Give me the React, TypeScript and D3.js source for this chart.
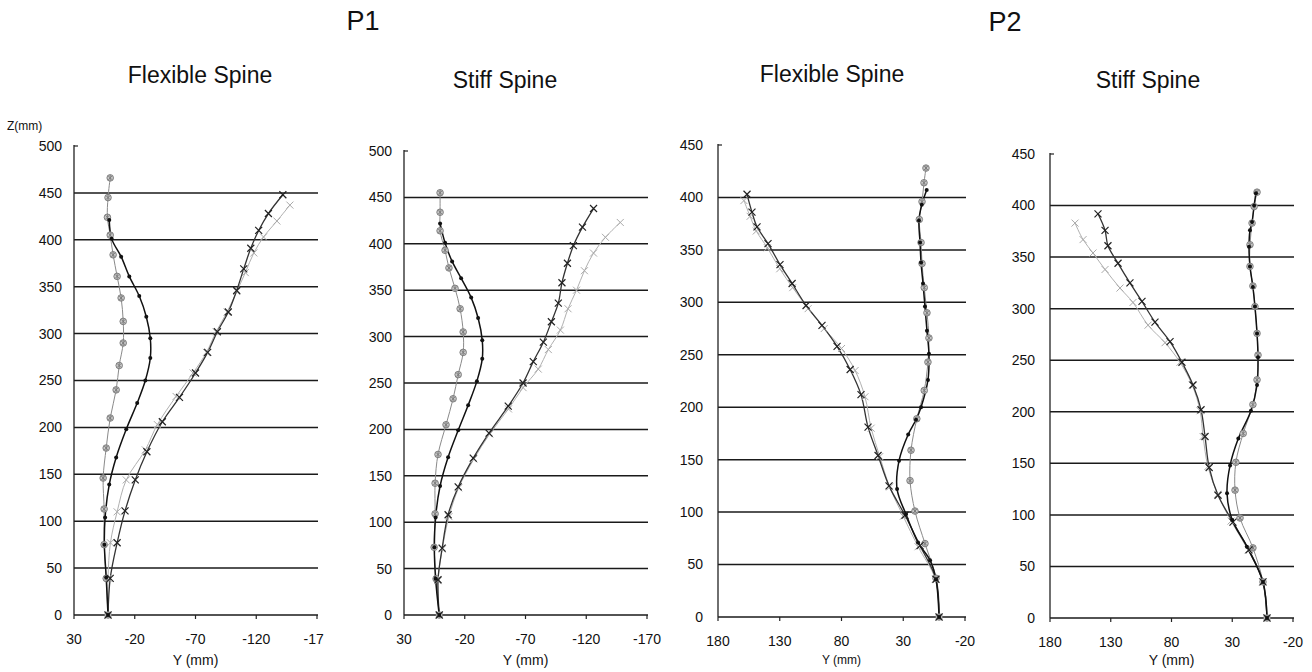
import React from "react";
import * as d3 from "d3";

// ---- data: [Y (mm), Z (mm)] ----
const yTicksP1 = [0, 50, 100, 150, 200, 250, 300, 350, 400, 450, 500];
const yTicksP2 = [0, 50, 100, 150, 200, 250, 300, 350, 400, 450];
const xTicksP1 = [30, -20, -70, -120, -170];
const xTicksP2 = [180, 130, 80, 30, -20];
const xLabelsP1Flex = ["30", "-20", "-70", "-120", "-17"];
const xLabelsP1Stiff = ["30", "-20", "-70", "-120", "-170"];
const xLabelsP2 = ["180", "130", "80", "30", "-20"];

const p1FlexDots = [[1, 421], [-1, 401], [-8.8, 382], [-15.5, 361], [-23.7, 340], [-29.5, 318], [-32.8, 295], [-32.8, 274], [-28.7, 250], [-22, 226], [-13, 198], [-4.7, 168], [1, 139], [4.4, 104], [5, 75], [3.5, 40], [2, 0]];
const p1FlexCircles = [[0.2, 466], [2, 445], [2.5, 424], [0.2, 405], [-2.2, 384], [-5.5, 361], [-8.8, 338], [-10.5, 313], [-10.5, 290], [-7.2, 266], [-4.7, 240], [0.2, 210], [3.5, 178], [6, 146], [5.2, 113], [5.2, 75], [3.5, 39], [2, 0]];
const p1FlexX = [[-141.9, 448], [-130, 428], [-122, 410], [-115.5, 391], [-109.7, 369], [-103.9, 346], [-97, 323], [-88, 302], [-80, 280], [-70, 258], [-56.8, 232], [-42.7, 206], [-30, 174], [-20.4, 144], [-12, 111], [-5.5, 77], [0.2, 39], [2, 0]];
const p1FlexXLight = [[-147.7, 437], [-137, 420], [-126, 403], [-118, 386], [-111, 365], [-104, 345], [-96, 323], [-87, 302], [-79, 280], [-68, 258], [-54, 233], [-38.6, 203], [-28.7, 176], [-13, 144], [-5.5, 110], [0, 77], [2, 39], [2, 0]];

const p1StiffDots = [[0.3, 422], [-3.8, 401], [-9.6, 381], [-17, 363], [-25.3, 342], [-31, 320], [-34.4, 296], [-34.4, 276], [-30, 252], [-22.8, 226], [-14.6, 199], [-6.3, 170], [0.3, 139], [4, 105], [5, 73], [4, 39], [1, 0]];
const p1StiffCircles = [[0.3, 455], [0.3, 434], [0.3, 414], [-3.8, 393], [-7, 374], [-12, 352], [-16.2, 330], [-18.7, 305], [-18.7, 283], [-14.6, 259], [-10.4, 233], [-4.6, 205], [2, 173], [4.4, 142], [4.4, 109], [5.2, 73], [3.6, 39], [1, 0]];
const p1StiffX = [[-126, 438], [-116.9, 418], [-109.4, 398], [-104.5, 379], [-100, 358], [-97, 336], [-91.3, 316], [-84.7, 294], [-76.4, 273], [-68, 250], [-55.8, 225], [-40, 196], [-27, 169], [-14.6, 138], [-6.3, 108], [-1.4, 72], [2, 38], [1, 0]];
const p1StiffXLight = [[-148, 423], [-135.8, 407], [-126, 390], [-118.5, 371], [-112, 350], [-105, 330], [-98.7, 307], [-88.8, 286], [-80.5, 265], [-68, 245], [-56, 222], [-40.5, 195], [-27.5, 168], [-15, 137], [-7, 106], [-1.5, 71], [2, 37], [1, 0]];

const p2FlexDots = [[11, 407], [15, 393], [17.3, 378], [16.4, 357], [15.6, 338], [14, 318], [12.4, 296], [10.8, 273], [9.2, 251], [10, 226], [15.6, 200], [19.7, 188], [26, 174], [33.4, 149], [35, 122], [27.8, 98], [18, 71], [8.3, 54], [3.5, 36], [1, 0]];
const p2FlexCircles = [[11.6, 428], [13.2, 414], [14.8, 396], [17, 379], [15.6, 357], [14.8, 337], [13, 314], [10.8, 290], [9.2, 266], [10, 243], [13, 216], [19, 189], [23.7, 159], [24.5, 130], [20.5, 101], [12.4, 70], [3.5, 37], [1, 0]];
const p2FlexX = [[156.5, 403], [152.5, 386], [148.4, 372], [139.5, 356], [129.8, 336], [120, 318], [108.7, 297], [95.8, 278], [83.6, 258], [73, 236], [64.2, 212], [58.5, 181], [50.4, 154], [41.5, 125], [28.6, 97], [16.4, 68], [3.5, 36], [1, 0]];
const p2FlexXLight = [[159, 397], [154, 382], [149, 368], [140, 352], [130, 332], [119.5, 314], [107, 294], [94, 275], [80, 256], [69, 235], [61, 210], [56, 180], [49, 153], [41, 124], [30, 96], [18, 67], [4, 36], [1, 0]];

const p2StiffDots = [[10.5, 412], [12, 400], [13.7, 384], [15.4, 376], [16.2, 360], [15.4, 341], [13, 321], [11.3, 302], [9.6, 276], [8.8, 253], [9.6, 226], [14.6, 201], [25, 174], [31.8, 148], [34.3, 121], [30, 95], [17.9, 69], [4.7, 35], [1.4, 0]];
const p2StiffCircles = [[9.6, 413], [12, 399], [13.7, 383], [15.4, 362], [15.4, 341], [13, 322], [11.3, 302], [9.6, 276], [8.8, 255], [9.6, 231], [13, 207], [21, 179], [27, 151], [27.7, 124], [23.6, 97], [13, 68], [4.7, 35], [1.4, 0]];
const p2StiffX = [[140.5, 392], [134.7, 376], [132.3, 361], [124, 344], [114.2, 325], [104.3, 307], [93.6, 287], [81.2, 268], [71.4, 248], [62.3, 226], [55.7, 202], [52.4, 176], [49, 146], [41.7, 119], [29.4, 93], [16.2, 66], [4.7, 35], [1.4, 0]];
const p2StiffXLight = [[159.4, 383], [152.8, 367], [144.6, 354], [134.7, 338], [122.4, 320], [111.7, 306], [99.3, 284], [85.3, 267], [73, 248], [63, 226], [56.5, 201], [54, 176], [50, 147], [42, 120], [31, 94], [17, 66], [5, 35], [1.4, 0]];

const FONT = "'Liberation Sans', Arial, sans-serif";

// panel layout (pixels) - x0/x1 plot left/right, y0 = pixel of Z=0, yTop = pixel of top tick
const panels = [
  { title: "Flexible Spine", tx: 200, ty: 83, x0: 74, x1: 317, y0: 615, yTop: 146, xDom: [30, -170], xTicks: xTicksP1, xLabels: xLabelsP1Flex, yTicks: yTicksP1, lblGap: 12, axTitleY: 665, axFont: 14,
    series: { xlight: p1FlexXLight, circles: p1FlexCircles, xdark: p1FlexX, dots: p1FlexDots } },
  { title: "Stiff Spine", tx: 505, ty: 88, x0: 404, x1: 647, y0: 615, yTop: 151, xDom: [30, -170], xTicks: xTicksP1, xLabels: xLabelsP1Stiff, yTicks: yTicksP1, lblGap: 12, axTitleY: 665, axFont: 14,
    series: { xlight: p1StiffXLight, circles: p1StiffCircles, xdark: p1StiffX, dots: p1StiffDots } },
  { title: "Flexible Spine", tx: 832, ty: 82, x0: 718, x1: 965, y0: 617, yTop: 145, xDom: [180, -20], xTicks: xTicksP2, xLabels: xLabelsP2, yTicks: yTicksP2, lblGap: 15, axTitleY: 664, axFont: 12,
    series: { xlight: p2FlexXLight, circles: p2FlexCircles, xdark: p2FlexX, dots: p2FlexDots } },
  { title: "Stiff Spine", tx: 1148, ty: 88, x0: 1050, x1: 1293, y0: 618, yTop: 154, xDom: [180, -20], xTicks: xTicksP2, xLabels: xLabelsP2, yTicks: yTicksP2, lblGap: 15, axTitleY: 665, axFont: 14,
    series: { xlight: p2StiffXLight, circles: p2StiffCircles, xdark: p2StiffX, dots: p2StiffDots } },
];

const Marker = ({ kind, x, y }: { kind: string; x: number; y: number }) => {
  if (kind === "dots") return <circle cx={x} cy={y} r={2} fill="#111" />;
  if (kind === "circles")
    return (
      <g stroke="#777" strokeWidth={0.9}>
        <circle cx={x} cy={y} r={3.3} fill="#c8c8c8" />
        <path d={`M${x - 2},${y - 2}L${x + 2},${y + 2}M${x - 2},${y + 2}L${x + 2},${y - 2}M${x},${y - 3}L${x},${y + 3}`} />
      </g>
    );
  if (kind === "xdark")
    return <path d={`M${x - 3.5},${y - 3.5}L${x + 3.5},${y + 3.5}M${x - 3.5},${y + 3.5}L${x + 3.5},${y - 3.5}`} stroke="#222" strokeWidth={1.2} />;
  return <path d={`M${x - 3.5},${y - 3.5}L${x + 3.5},${y + 3.5}M${x - 3.5},${y + 3.5}L${x + 3.5},${y - 3.5}`} stroke="#aaa" strokeWidth={1} />;
};

const lineStyle: Record<string, { stroke: string; width: number }> = {
  xlight: { stroke: "#b0b0b0", width: 1 },
  circles: { stroke: "#8a8a8a", width: 1 },
  xdark: { stroke: "#333", width: 1.3 },
  dots: { stroke: "#111", width: 1.5 },
};

const Panel = ({ p }: { p: any }) => {
  const yMax = p.yTicks[p.yTicks.length - 1];
  const x = d3.scaleLinear().domain(p.xDom).range([p.x0, p.x1]);
  const y = d3.scaleLinear().domain([0, yMax]).range([p.y0, p.yTop]);
  const line = d3.line<number[]>().x((d) => x(d[0])).y((d) => y(d[1])).curve(d3.curveCatmullRom.alpha(0.5));
  return (
    <g>
      <text x={p.tx} y={p.ty} textAnchor="middle" fontSize={23} fontFamily={FONT} fill="#111">{p.title}</text>
      {/* gridlines (no line on the top tick) */}
      {p.yTicks.slice(0, -1).map((t: number) => (
        <line key={t} x1={p.x0} x2={p.x1 + 1} y1={y(t)} y2={y(t)} stroke="#1a1a1a" strokeWidth={1.5} />
      ))}
      {/* left axis + top tick */}
      <line x1={p.x0} x2={p.x0} y1={y(yMax) - 1} y2={p.y0} stroke="#222" strokeWidth={1.3} />
      <line x1={p.x0} x2={p.x0 + 4} y1={y(yMax)} y2={y(yMax)} stroke="#222" strokeWidth={1.2} />
      {p.yTicks.map((t: number) => (
        <text key={t} x={p.x0 - p.lblGap} y={y(t)} dy="0.35em" textAnchor="end" fontSize={14} fontFamily={FONT} fill="#111">{t}</text>
      ))}
      {/* bottom axis ticks */}
      {p.xTicks.map((t: number, i: number) => (
        <g key={t}>
          <line x1={x(t)} x2={x(t)} y1={p.y0} y2={p.y0 + 4} stroke="#222" strokeWidth={1.2} />
          <text x={i === 4 && p.xLabels[i] === "-17" ? x(t) - 13.5 : x(t)} y={p.y0 + 29} textAnchor={i === 4 && p.xLabels[i] === "-17" ? "start" : "middle"} fontSize={14} fontFamily={FONT} fill="#111">{p.xLabels[i]}</text>
        </g>
      ))}
      <text x={(p.x0 + p.x1) / 2} y={p.axTitleY} textAnchor="middle" fontSize={p.axFont} fontFamily={FONT} fill="#111">Y (mm)</text>
      {["xlight", "circles", "xdark", "dots"].map((k) => (
        <path key={k} d={line(p.series[k]) || ""} fill="none" stroke={lineStyle[k].stroke} strokeWidth={lineStyle[k].width} />
      ))}
      {["xlight", "circles", "xdark", "dots"].map((k) =>
        p.series[k].map((d: number[], i: number) => <Marker key={k + i} kind={k} x={x(d[0])} y={y(d[1])} />)
      )}
    </g>
  );
};

export default function App() {
  return (
    <svg width={1312} height={672} style={{ position: "absolute", left: 0, top: 0, background: "#fff" }}>
      <rect width={1312} height={672} fill="#fff" />
      <text x={363} y={30} textAnchor="middle" fontSize={27} fontFamily={FONT} fill="#111">P1</text>
      <text x={1005} y={31} textAnchor="middle" fontSize={27} fontFamily={FONT} fill="#111">P2</text>
      <text x={7} y={130} fontSize={12} fontFamily={FONT} fill="#111">Z(mm)</text>
      {panels.map((p, i) => <Panel key={i} p={p} />)}
    </svg>
  );
}
